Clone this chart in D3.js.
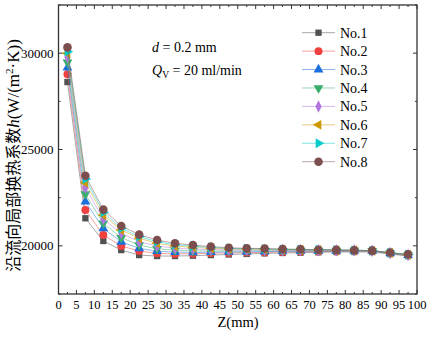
<!DOCTYPE html>
<html><head><meta charset="utf-8">
<script src="https://cdn.jsdelivr.net/npm/d3@7"></script>
<style>html,body{margin:0;padding:0;background:#fff;}svg{display:block;}</style>
</head><body>
<svg id="c" width="434" height="338"></svg>
<script>
const zValues = [2.5, 7.5, 12.5, 17.5, 22.5, 27.5, 32.5, 37.5, 42.5, 47.5, 52.5, 57.5, 62.5, 67.5, 72.5, 77.5, 82.5, 87.5, 92.5, 97.5];
const seriesNames = ["No.1", "No.2", "No.3", "No.4", "No.5", "No.6", "No.7", "No.8"];
const no1 = [28500, 21430, 20250, 19780, 19520, 19470, 19470, 19490, 19520, 19550, 19580, 19610, 19630, 19645, 19665, 19680, 19680, 19680, 19575, 19470];
const no2 = [28900, 21860, 20560, 19990, 19730, 19610, 19580, 19590, 19610, 19630, 19650, 19660, 19680, 19690, 19700, 19710, 19715, 19720, 19600, 19500];
const no3 = [29250, 22290, 20910, 20210, 19870, 19720, 19670, 19660, 19670, 19680, 19690, 19700, 19710, 19720, 19725, 19730, 19735, 19735, 19610, 19510];
const no4 = [29530, 22680, 21170, 20420, 20040, 19850, 19770, 19740, 19730, 19730, 19740, 19740, 19745, 19750, 19750, 19750, 19750, 19745, 19620, 19520];
const no5 = [29790, 23020, 21390, 20650, 20210, 19990, 19880, 19830, 19800, 19790, 19790, 19785, 19785, 19780, 19775, 19770, 19765, 19750, 19630, 19530];
const no6 = [29990, 23280, 21600, 20820, 20390, 20130, 19990, 19920, 19870, 19840, 19830, 19820, 19810, 19800, 19790, 19780, 19770, 19750, 19640, 19540];
const no7 = [30080, 23470, 21740, 20910, 20480, 20210, 20060, 19980, 19920, 19870, 19850, 19840, 19820, 19810, 19800, 19790, 19770, 19750, 19645, 19550];
const no8 = [30300, 23640, 21880, 21030, 20580, 20300, 20130, 20040, 19960, 19900, 19870, 19860, 19830, 19820, 19800, 19790, 19770, 19750, 19650, 19560];
const xTickLabels = [0,5,10,15,20,25,30,35,40,45,50,55,60,65,70,75,80,85,90,95,100];
const yTickLabels = [20000, 25000, 30000];
const colors = ["#515151", "#F14040", "#1A6FDF", "#37AD6B", "#B177DE", "#CC9900", "#00CBCC", "#7D4E4E"];

const allSeries = [no1,no2,no3,no4,no5,no6,no7,no8];
const svg = d3.select("#c");
const L = 58.5, R = 417, T = 5, B = 294;
const x = d3.scaleLinear().domain([0, 100]).range([L, R]);
const y = d3.scaleLinear().domain([17500, 32500]).range([B, T]);
const axisColor = "#333";
const font = "'Liberation Serif','Times New Roman',serif";

function symbolFor(i) {
  const types = [d3.symbolSquare, d3.symbolCircle, d3.symbolTriangle, d3.symbolTriangle, d3.symbolDiamond, d3.symbolTriangle, d3.symbolTriangle, d3.symbolCircle];
  const sizes = [40, 50, 42, 42, 34, 42, 42, 58];
  return d3.symbol().type(types[i]).size(sizes[i])();
}
const rot = [0, 0, 0, 180, 0, -90, 90, 0];
function symTransform(i, cx, cy) {
  let t = `translate(${cx},${cy})`;
  if (i === 4) t += " scale(1,1.15)";
  if (rot[i]) t += ` rotate(${rot[i]})`;
  return t;
}

allSeries.forEach((vals, i) => {
  const pts = zValues.map((z, k) => [z, vals[k]]);
  const line = d3.line().x(d => x(d[0])).y(d => y(d[1]));
  svg.append("path").attr("d", line(pts)).attr("fill", "none")
    .attr("stroke", colors[i]).attr("stroke-opacity", 0.5).attr("stroke-width", 1);
  svg.append("g").selectAll("path").data(pts).enter().append("path")
    .attr("d", symbolFor(i))
    .attr("transform", d => symTransform(i, x(d[0]), y(d[1])))
    .attr("fill", colors[i]);
});

const g = svg.append("g");
const xMajor = d3.range(0, 100.01, 5), xMinor = d3.range(2.5, 100, 5);
const yMajor = yTickLabels, yMinor = [17500, 22500, 27500, 32500];
const tk = g.append("g").attr("stroke", axisColor).attr("stroke-width", 1);
xMajor.forEach(v => {
  tk.append("line").attr("x1", x(v)).attr("x2", x(v)).attr("y1", B).attr("y2", B - 4);
  tk.append("line").attr("x1", x(v)).attr("x2", x(v)).attr("y1", T).attr("y2", T + 4);
});
xMinor.forEach(v => {
  tk.append("line").attr("x1", x(v)).attr("x2", x(v)).attr("y1", B).attr("y2", B - 2);
  tk.append("line").attr("x1", x(v)).attr("x2", x(v)).attr("y1", T).attr("y2", T + 2);
});
yMajor.forEach(v => {
  tk.append("line").attr("x1", L).attr("x2", L + 4).attr("y1", y(v)).attr("y2", y(v));
  tk.append("line").attr("x1", R).attr("x2", R - 4).attr("y1", y(v)).attr("y2", y(v));
});
yMinor.forEach(v => {
  tk.append("line").attr("x1", L).attr("x2", L + 2).attr("y1", y(v)).attr("y2", y(v));
  tk.append("line").attr("x1", R).attr("x2", R - 2).attr("y1", y(v)).attr("y2", y(v));
});
g.append("rect").attr("x", L).attr("y", T).attr("width", R - L).attr("height", B - T)
  .attr("fill", "none").attr("stroke", axisColor).attr("stroke-width", 1.3);

g.append("g").selectAll("text").data(xTickLabels).enter().append("text")
  .attr("x", d => x(d)).attr("y", 309).attr("text-anchor", "middle")
  .attr("font-family", font).attr("font-size", 12.5).attr("fill", "#000").text(d => d);
g.append("g").selectAll("text").data(yTickLabels).enter().append("text")
  .attr("x", L - 5).attr("y", d => y(d) + 4.5).attr("text-anchor", "end")
  .attr("font-family", font).attr("font-size", 13).attr("fill", "#000").text(d => d);

svg.append("text").attr("x", 238).attr("y", 327).attr("text-anchor", "middle")
  .attr("font-family", font).attr("font-size", 14.5).text("Z(mm)");
const yt = svg.append("text").attr("transform", `translate(19,${(T + B) / 2 + 6}) rotate(-90)`)
  .attr("text-anchor", "middle").attr("font-family", "'Noto Sans CJK SC',serif").attr("font-size", 16);
yt.append("tspan").text("沿流向局部换热系数");
yt.append("tspan").attr("font-family", font).attr("font-style", "italic").attr("font-size", 17).text("h");
yt.append("tspan").attr("font-family", font).attr("font-size", 17).text("(W/(m");
yt.append("tspan").attr("font-family", font).attr("font-size", 11).attr("dy", -6).text("2");
yt.append("tspan").attr("font-family", font).attr("font-size", 17).attr("dy", 6).text("·K))");

const a1 = svg.append("text").attr("x", 152).attr("y", 52).attr("font-family", font).attr("font-size", 14);
a1.append("tspan").attr("font-style", "italic").text("d");
a1.append("tspan").text(" = 0.2 mm");
const a2 = svg.append("text").attr("x", 152).attr("y", 75).attr("font-family", font).attr("font-size", 14);
a2.append("tspan").attr("font-style", "italic").text("Q");
a2.append("tspan").attr("font-size", 9.5).attr("dy", 3).text("V");
a2.append("tspan").attr("dy", -3).text(" = 20 ml/min");

const lg = svg.append("g");
seriesNames.forEach((name, i) => {
  const cy = 32.7 + i * 18.43;
  lg.append("line").attr("x1", 302).attr("x2", 335).attr("y1", cy).attr("y2", cy)
    .attr("stroke", colors[i]).attr("stroke-opacity", 0.5).attr("stroke-width", 1);
  lg.append("path").attr("d", symbolFor(i)).attr("transform", symTransform(i, 318.5, cy)).attr("fill", colors[i]);
  lg.append("text").attr("x", 340).attr("y", cy + 5).attr("font-family", font).attr("font-size", 14).text(name);
});
</script>
</body></html>
